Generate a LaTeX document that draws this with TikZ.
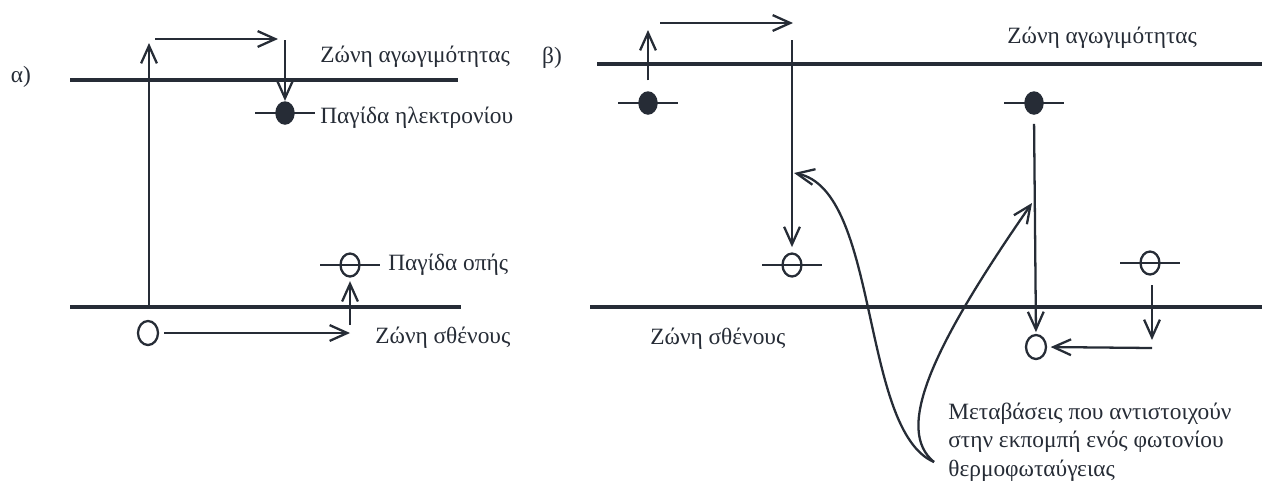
\documentclass[tikz,border=0pt]{standalone}
\usepackage{fontspec}
\setmainfont{Liberation Serif}
\definecolor{Ink}{RGB}{38,44,54}
\usetikzlibrary{arrows.meta,positioning,calc,shapes.geometric}

\begin{document}
\begin{tikzpicture}[x=0.02cm,y=-0.02cm,
    every node/.style={font=\fontsize{13.3}{16}\selectfont,text=Ink,inner sep=0pt},
    band/.style={Ink,line width=2pt},
    level/.style={Ink,line width=1.6pt},
    trans/.style={Ink,line width=1.3pt,-{Straight Barb[length=10pt,width=9pt,line width=1.3pt]}},
    etrap/.style={ellipse,fill=Ink,minimum width=0.39cm,minimum height=0.47cm},
    htrap/.style={ellipse,draw=Ink,line width=1.3pt,minimum width=0.38cm,minimum height=0.46cm},
    hole/.style={ellipse,draw=Ink,line width=1.3pt,minimum width=0.40cm,minimum height=0.48cm}]
  \useasboundingbox (0,0) rectangle (1262,485);
  %% Bands
  \draw[band] (70,80) -- (458,80);
  \draw[band] (70,307) -- (461,307);
  \draw[band] (597,64) -- (1262,64);
  \draw[band] (590,307) -- (1262,307);
  %% Traps
  \foreach \n/\x/\y in {eA/285/113, eB1/648/103, eB2/1034/103}{
    \draw[level] (\x-30,\y) -- (\x+30,\y);
    \node[etrap] (\n) at (\x,\y) {};
  }
  \foreach \n/\x/\y in {tA/350/265, tB1/792/265, tB2/1150/263}{
    \draw[level] (\x-30,\y) -- (\x+30,\y);
    \node[htrap] (\n) at (\x,\y) {};
  }
  \node[hole] (hA) at (148,333) {};
  \node[hole] (hB) at (1036,347) {};
  %% Labels
  \node (lblA) at (21,77) {α)};
  \node (lblB) at (552,58) {β)};
  \node[anchor=base west] (cbA) at (320,62) {Ζώνη αγωγιμότητας};
  \node[anchor=base west] (cbB) at (1007,43) {Ζώνη αγωγιμότητας};
  \node[anchor=base west] (etA) at (320,123) {Παγίδα ηλεκτρονίου};
  \node[anchor=base west] (htA) at (388,270) {Παγίδα οπής};
  \node[anchor=base west] (vbA) at (375,343) {Ζώνη σθένους};
  \node[anchor=base west] (vbB) at (650,344) {Ζώνη σθένους};
  \node[anchor=base west,align=left] (note) at (948,476)
    {Μεταβάσεις που αντιστοιχούν\\στην εκπομπή ενός φωτονίου\\θερμοφωταύγειας};
  %% Transitions (a)
  \coordinate (vA1) at (149,307);
  \coordinate (cA1) at (149,43);
  \coordinate (cA2) at (155,39);
  \coordinate (cA3) at (278,39);
  \coordinate (cA4) at (285,40);
  \coordinate (vA2) at (350,333);
  \coordinate (vA3) at (350,325);
  \draw[trans] (vA1) -- (cA1);
  \draw[trans] (cA2) -- (cA3);
  \draw[trans] (cA4) -- (eA.north);
  \draw[trans] ([xshift=3pt]hA.east) -- (vA2);
  \draw[trans,shorten >=2pt] (vA3) -- (tA.south);
  %% Transitions (b)
  \coordinate (cB1) at (648,30);
  \coordinate (cB2) at (660,23);
  \coordinate (cB3) at (793,23);
  \coordinate (cB4) at (792,40);
  \coordinate (kB1) at (794,173);
  \coordinate (kB2) at (1032,203);
  \coordinate (vB2) at (1152,285);
  \coordinate (vB3) at (1152,340);
  \coordinate (vB4) at (1152,348);
  \draw[trans] ([yshift=6pt]eB1.north) -- (cB1);
  \draw[trans] (cB2) -- (cB3);
  \draw[trans,shorten >=3pt] (cB4) -- (tB1.north);
  \draw[trans,shorten <=5pt,shorten >=1pt] (eB2.south) -- (hB.north);
  \draw[trans] (vB2) -- (vB3);
  \draw[trans,shorten >=2pt] (vB4) -- (hB.east);
  %% Emission paths
  \coordinate (kB0) at (934,462);
  \draw[trans] (kB0) .. controls (860,430) and (880,190) .. (kB1);
  \draw[trans] (kB0) .. controls (895,430) and (930,350) .. (kB2);
\end{tikzpicture}
\end{document}
